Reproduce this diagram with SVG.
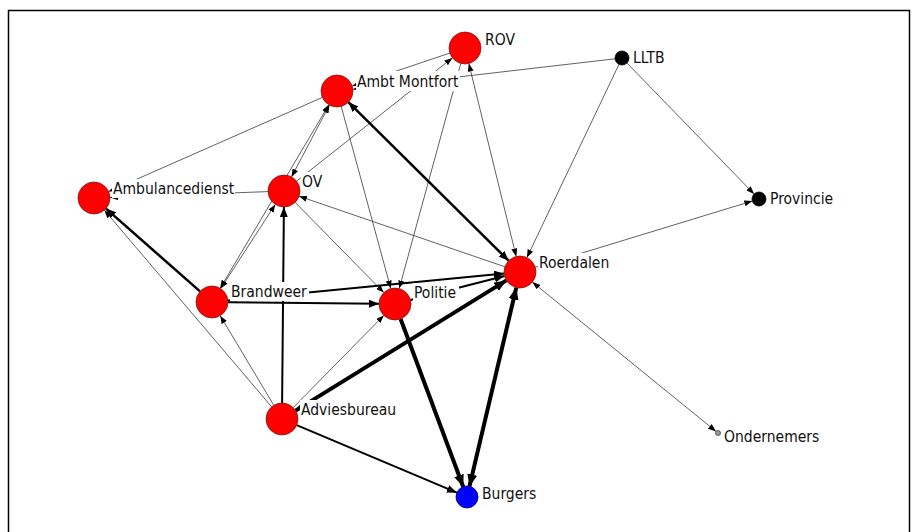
<svg xmlns="http://www.w3.org/2000/svg" width="913" height="532" viewBox="0 0 913 532">
<style>
.t{stroke:#3a3a3a;stroke-width:0.8;fill:none}
.m{stroke:#000;stroke-width:2;fill:none}
.k{stroke:#000;stroke-width:2.5;fill:none}
.h{stroke:#000;stroke-width:4;fill:none}
.red{fill:#ff0000;stroke:#7a1a1a;stroke-width:0.8}
.blk{fill:#000;stroke:#000;stroke-width:0.8}
.blu{fill:#0000ff;stroke:#000066;stroke-width:0.8}
.gry{fill:#999;stroke:#444;stroke-width:0.8}
.bg{fill:#fff}
text{font-family:"DejaVu Sans Condensed","DejaVu Sans","Liberation Sans",sans-serif;font-stretch:condensed;font-size:15.5px;fill:#111}
</style>
<defs>
<marker id="a" markerUnits="userSpaceOnUse" markerWidth="8" markerHeight="6" refX="8" refY="3" orient="auto-start-reverse"><path d="M0,0 L8,3 L0,6 z" fill="#000"/></marker>
<marker id="am" markerUnits="userSpaceOnUse" markerWidth="10" markerHeight="8" refX="10" refY="4" orient="auto-start-reverse"><path d="M0,0 L10,4 L0,8 z" fill="#000"/></marker>
<marker id="ab" markerUnits="userSpaceOnUse" markerWidth="12" markerHeight="10" refX="12" refY="5" orient="auto-start-reverse"><path d="M0,0 L12,5 L0,10 z" fill="#000"/></marker>
</defs>
<rect x="8.5" y="10.5" width="901" height="530" fill="#fff" stroke="#000" stroke-width="1.5"/>
<g id="connectors">
<line class="t" x1="449.8" y1="53.1" x2="352.2" y2="85.9" marker-end="url(#a)"/>
<line class="t" x1="296.6" y1="181.1" x2="452.4" y2="57.9" marker-end="url(#a)"/>
<line class="t" x1="615" y1="58.8" x2="352.9" y2="89.2" marker-end="url(#a)"/>
<line class="t" x1="626.9" y1="63" x2="754.1" y2="194" marker-end="url(#a)"/>
<line class="t" x1="619" y1="64.3" x2="526.9" y2="257.6" marker-end="url(#a)"/>
<line class="t" x1="468.8" y1="63.5" x2="516.2" y2="256.5" marker-start="url(#a)" marker-end="url(#a)"/>
<line class="t" x1="460.8" y1="63.4" x2="399.2" y2="288.6" marker-end="url(#a)"/>
<line class="t" x1="341.2" y1="106.4" x2="390.8" y2="288.6" marker-end="url(#a)"/>
<line class="k" x1="348.4" y1="102.2" x2="508.6" y2="260.7" marker-start="url(#am)" marker-end="url(#am)"/>
<line class="t" x1="291.5" y1="176.9" x2="329.5" y2="104.9" marker-start="url(#a)" marker-end="url(#a)"/>
<line class="t" x1="220.2" y1="288.2" x2="328.8" y2="104.8" marker-start="url(#a)" marker-end="url(#a)"/>
<line class="t" x1="275.3" y1="204.4" x2="220.7" y2="288.6" marker-start="url(#a)" marker-end="url(#a)"/>
<line class="t" x1="322.4" y1="97.4" x2="108.6" y2="191.6" marker-end="url(#a)"/>
<line class="t" x1="268" y1="191.6" x2="110" y2="197.4" marker-end="url(#a)"/>
<line class="t" x1="504.9" y1="266.8" x2="299.1" y2="196.2" marker-end="url(#a)"/>
<line class="t" x1="295.2" y1="202.4" x2="383.8" y2="292.6" marker-end="url(#a)"/>
<line class="m" x1="282.1" y1="403" x2="283.9" y2="207" marker-end="url(#am)"/>
<line class="m" x1="228" y1="302.2" x2="379" y2="303.8" marker-end="url(#am)"/>
<line class="m" x1="227.9" y1="300.4" x2="504.1" y2="273.6" marker-end="url(#am)"/>
<line class="m" x1="410.5" y1="300" x2="504.5" y2="276" marker-end="url(#am)"/>
<line class="h" x1="295.6" y1="410.6" x2="506.4" y2="280.4" marker-start="url(#ab)" marker-end="url(#ab)"/>
<line class="t" x1="293.2" y1="407.6" x2="383.8" y2="315.4" marker-end="url(#a)"/>
<line class="t" x1="273.8" y1="405.3" x2="220.2" y2="315.7" marker-end="url(#a)"/>
<line class="t" x1="271.6" y1="406.8" x2="104.4" y2="210.2" marker-end="url(#a)"/>
<line class="k" x1="200" y1="291.4" x2="106" y2="208.6" marker-end="url(#am)"/>
<line class="h" x1="400.6" y1="319" x2="463.2" y2="486.7" marker-end="url(#ab)"/>
<line class="h" x1="516.3" y1="287.6" x2="469.5" y2="486.3" marker-start="url(#ab)" marker-end="url(#ab)"/>
<line class="m" x1="296.7" y1="425.2" x2="456.9" y2="492.7" marker-end="url(#am)"/>
<line class="t" x1="535.3" y1="267.3" x2="752.3" y2="201" marker-end="url(#a)"/>
<line class="t" x1="532.4" y1="282.1" x2="716" y2="431.4" marker-start="url(#a)" marker-end="url(#a)"/>
</g>
<g id="n-rov"><circle class="red" cx="465" cy="48" r="16"/><rect class="bg" x="484" y="30" width="31" height="19"/><text x="485" y="45">ROV</text></g>
<g id="n-ambt-montfort"><circle class="red" cx="337" cy="91" r="16"/><rect class="bg" x="356" y="71" width="104" height="20"/><text x="357" y="87">Ambt Montfort</text></g>
<g id="n-lltb"><circle class="blk" cx="622" cy="58" r="7"/><rect class="bg" x="632" y="48" width="36" height="19"/><text x="633" y="63">LLTB</text></g>
<g id="n-ambulancedienst"><circle class="red" cx="94" cy="198" r="16"/><rect class="bg" x="112" y="179" width="123" height="19"/><text x="113" y="194">Ambulancedienst</text></g>
<g id="n-ov"><circle class="red" cx="284" cy="191" r="16"/><rect class="bg" x="301" y="172" width="24" height="19"/><text x="302" y="187">OV</text></g>
<g id="n-brandweer"><circle class="red" cx="212" cy="302" r="16"/><rect class="bg" x="230" y="282" width="79" height="19"/><text x="231" y="297">Brandweer</text></g>
<g id="n-politie"><circle class="red" cx="395" cy="304" r="16"/><rect class="bg" x="413" y="283" width="46" height="19"/><text x="414" y="298">Politie</text></g>
<g id="n-roerdalen"><circle class="red" cx="520" cy="272" r="16"/><rect class="bg" x="538" y="253" width="72" height="19"/><text x="539" y="268">Roerdalen</text></g>
<g id="n-adviesbureau"><circle class="red" cx="282" cy="419" r="16"/><rect class="bg" x="300" y="400" width="97" height="19"/><text x="301" y="415">Adviesbureau</text></g>
<g id="n-burgers"><circle class="blu" cx="467" cy="497" r="11"/><rect class="bg" x="481" y="484" width="57" height="19"/><text x="482" y="499">Burgers</text></g>
<g id="n-provincie"><circle class="blk" cx="759" cy="199" r="7"/><rect class="bg" x="769" y="189" width="65" height="19"/><text x="770" y="204">Provincie</text></g>
<g id="n-ondernemers"><circle class="gry" cx="718" cy="433" r="2.5"/><rect class="bg" x="723" y="427" width="98" height="19"/><text x="724" y="442">Ondernemers</text></g>
</svg>
